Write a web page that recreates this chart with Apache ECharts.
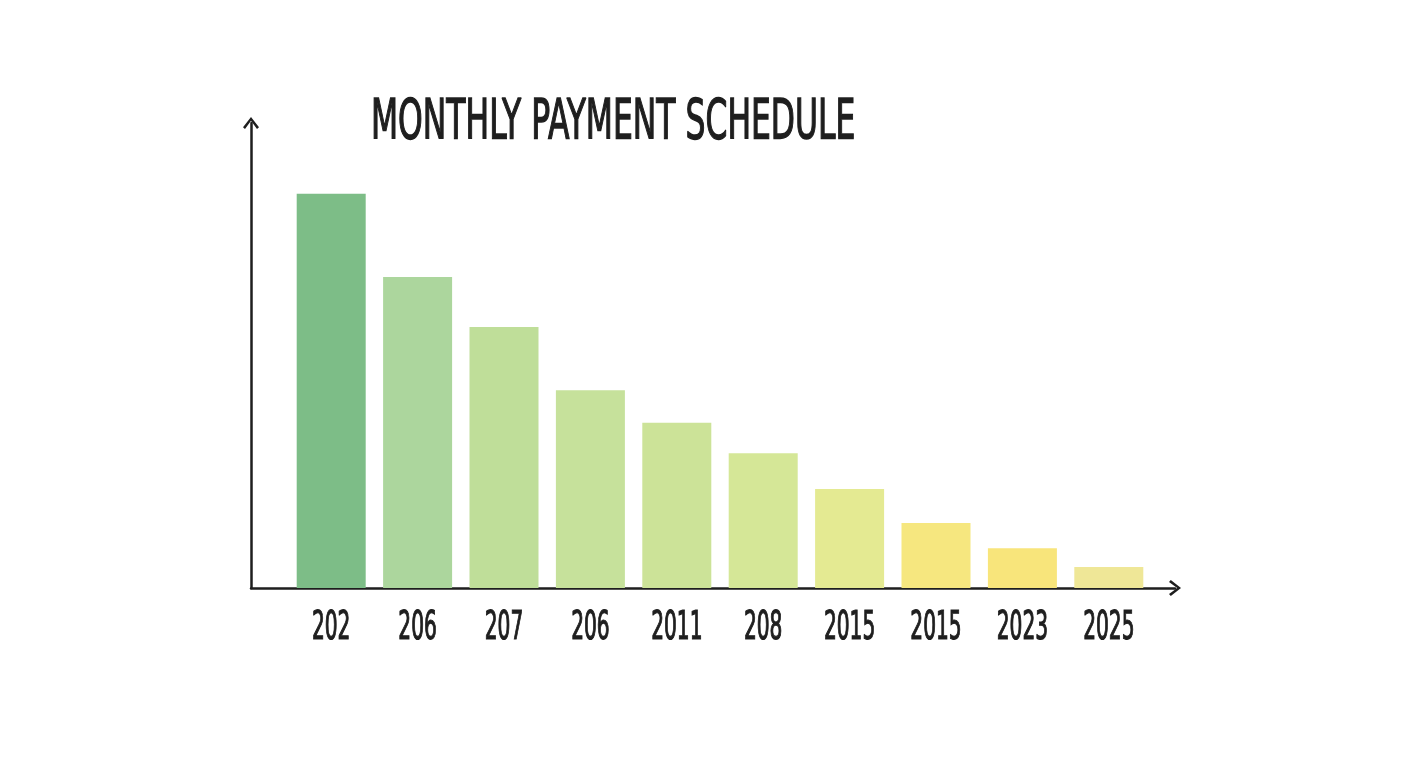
<!DOCTYPE html>
<html>
<head>
<meta charset="utf-8">
<script src="https://cdn.jsdelivr.net/npm/echarts@6/dist/echarts.min.js"></script>
<style>
html,body{margin:0;padding:0;background:#ffffff;}
#chart{width:1408px;height:768px;}
</style>
</head>
<body>
<div id="chart"></div>
<script>
const title = 'MONTHLY PAYMENT SCHEDULE';
const categories = ['202', '206', '207', '206', '2011', '208', '2015', '2015', '2023', '2025'];
const payments = [1000, 789, 662, 502, 419, 342, 251, 165, 101, 53];
const barColors = ['#7dbd87', '#acd69d', '#bfde99', '#c6e19b', '#cce398', '#d5e797', '#e4ea92', '#f6e77f', '#f8e57b', '#efe797'];

const FONT = '"DejaVu Sans Condensed", "DejaVu Sans", sans-serif';
const INK = '#1e1e1e';
const chevron = 'path://M0,10.2 L8,0 L16,10.2 L14,12 L8,3.8 L2,12 Z';

const chart = echarts.init(document.getElementById('chart'), null, {renderer: 'canvas'});
chart.setOption({
  backgroundColor: '#ffffff',
  animation: false,
  grid: [
    {left: 288, width: 864, top: 115, height: 473},
    {left: 251, width: 924, top: 123, height: 465}
  ],
  xAxis: [
    {
      type: 'category', gridIndex: 0, data: categories,
      axisLine: {show: false}, axisTick: {show: false}, axisLabel: {show: false}
    },
    {
      type: 'value', gridIndex: 1, min: 0, max: 1,
      axisLine: {show: true, lineStyle: {color: INK, width: 2.5}, symbol: ['none', chevron], symbolSize: [16, 12]},
      axisTick: {show: false}, axisLabel: {show: false}, splitLine: {show: false}
    }
  ],
  yAxis: [
    {
      type: 'value', gridIndex: 0, min: 0, max: 1200,
      axisLine: {show: false}, axisTick: {show: false}, axisLabel: {show: false}, splitLine: {show: false}
    },
    {
      type: 'value', gridIndex: 1, min: 0, max: 1,
      axisLine: {show: true, lineStyle: {color: INK, width: 2.5}, symbol: ['none', chevron], symbolSize: [16, 12]},
      axisTick: {show: false}, axisLabel: {show: false}, splitLine: {show: false}
    }
  ],
  series: [
    {
      type: 'bar', xAxisIndex: 0, yAxisIndex: 0,
      data: payments.map((v, i) => ({value: v, itemStyle: {color: barColors[i]}})),
      barWidth: 69
    }
  ]
});

// Condensed text: labels positioned from the category axis scale, narrowed with scaleX
const baseY = chart.convertToPixel({yAxisIndex: 0}, 0);
const graphics = [
  {
    type: 'text', x: 371, y: 151, scaleX: 0.635,
    style: {text: title, fill: INK, stroke: INK, lineWidth: 1.4, font: '55px ' + FONT, align: 'left', verticalAlign: 'bottom'}
  }
];
categories.forEach((c, i) => {
  const px = chart.convertToPixel({xAxisIndex: 0}, i);
  graphics.push({
    type: 'text', x: px, y: baseY + 60, scaleX: 0.575,
    style: {text: c, fill: INK, stroke: INK, lineWidth: 1.2, font: '39px ' + FONT, align: 'center', verticalAlign: 'bottom'}
  });
});
chart.setOption({graphic: graphics});
</script>
</body>
</html>
